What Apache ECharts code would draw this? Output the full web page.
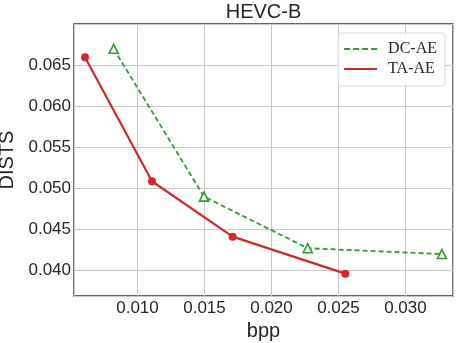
<!DOCTYPE html>
<html>
<head>
<meta charset="utf-8">
<script src="https://cdn.jsdelivr.net/npm/echarts@6/dist/echarts.min.js"></script>
<style>
html,body{margin:0;padding:0;background:#fff;}
#chart{width:459px;height:343px;}
</style>
</head>
<body>
<div id="chart"></div>
<script>
var titleText = 'HEVC-B';
var xLabel = 'bpp';
var yLabel = 'DISTS';
var seriesNames = ['DC-AE', 'TA-AE'];
var dcaeBpp = [0.00822, 0.01496, 0.0227, 0.03272];
var dcaeDists = [0.06698, 0.04898, 0.04269, 0.04198];
var taaeBpp = [0.00608, 0.01108, 0.0171, 0.02551];
var taaeDists = [0.06594, 0.05085, 0.0441, 0.03959];
var xRange = [0.00526, 0.03355];
var yRange = [0.03687, 0.0700];
var tickStep = 0.005;

function pairs(xs, ys) { return xs.map(function (x, i) { return [x, ys[i]]; }); }

var green = '#2ca02c', red = '#d62728';
var chart = echarts.init(document.getElementById('chart'), null, {renderer: 'canvas'});
var font = 'Liberation Sans, Arial, Helvetica, sans-serif';
chart.setOption({
  animation: false,
  backgroundColor: '#fff',
  title: {
    text: titleText, left: 263.5, textAlign: 'center', top: 2, padding: 0,
    textStyle: {fontFamily: font, fontSize: 20, fontWeight: 'normal', color: '#262626'}
  },
  grid: {left: 74, right: 6, top: 24, bottom: 47, containLabel: false, outerBoundsMode: 'none',
    show: true, borderColor: '#333', borderWidth: 1.3, backgroundColor: 'transparent'},
  legend: {
    right: 14, top: 33, orient: 'vertical',
    itemWidth: 33, itemHeight: 2, itemGap: 4,
    padding: [8, 8, 9, 6],
    backgroundColor: 'rgba(255,255,255,0.85)',
    borderColor: '#d8d8d8', borderWidth: 1, borderRadius: 3,
    textStyle: {fontFamily: 'Liberation Serif, Times New Roman, serif', fontSize: 16, color: '#262626', padding: [0, 0, 0, 6]},
    data: [
      {name: seriesNames[0], icon: 'path://M0,0H6V2H0Z M9,0H15V2H9Z M18,0H24V2H18Z M27,0H33V2H27Z', itemStyle: {color: green, borderWidth: 0}},
      {name: seriesNames[1], icon: 'path://M0,0H33V2H0Z', itemStyle: {color: red, borderWidth: 0}}
    ]
  },
  xAxis: {
    type: 'value', min: xRange[0], max: xRange[1], splitNumber: 5,
    minInterval: tickStep, maxInterval: tickStep,
    name: xLabel, nameLocation: 'middle', nameGap: 22,
    nameTextStyle: {fontFamily: font, fontSize: 20, color: '#262626'},
    axisLine: {show: false}, axisTick: {show: false},
    axisLabel: {fontFamily: font, fontSize: 17, color: '#262626', margin: 4, showMinLabel: false, showMaxLabel: false,
      formatter: function (v) { return v.toFixed(3); }},
    splitLine: {show: true, lineStyle: {color: '#c8c8c8', width: 1}}
  },
  yAxis: {
    type: 'value', min: yRange[0], max: yRange[1], splitNumber: 5,
    minInterval: tickStep, maxInterval: tickStep,
    name: yLabel, nameLocation: 'middle', nameGap: 51, nameRotate: 90,
    nameTextStyle: {fontFamily: font, fontSize: 20, color: '#262626'},
    axisLine: {show: false}, axisTick: {show: false},
    axisLabel: {fontFamily: font, fontSize: 17, color: '#262626', margin: 3, showMinLabel: false, showMaxLabel: false,
      formatter: function (v) { return v.toFixed(3); }},
    splitLine: {show: true, lineStyle: {color: '#c8c8c8', width: 1}}
  },
  series: [
    {
      name: seriesNames[0], type: 'line', data: pairs(dcaeBpp, dcaeDists),
      symbol: 'triangle', symbolSize: 9,
      itemStyle: {color: '#fff', borderColor: green, borderWidth: 1.6},
      lineStyle: {color: green, width: 1.8, type: [5, 3]},
      z: 3
    },
    {
      name: seriesNames[1], type: 'line', data: pairs(taaeBpp, taaeDists),
      symbol: 'circle', symbolSize: 8,
      itemStyle: {color: red, borderColor: red, borderWidth: 0},
      lineStyle: {color: red, width: 2.2},
      z: 4
    }
  ]
});
</script>
</body>
</html>
